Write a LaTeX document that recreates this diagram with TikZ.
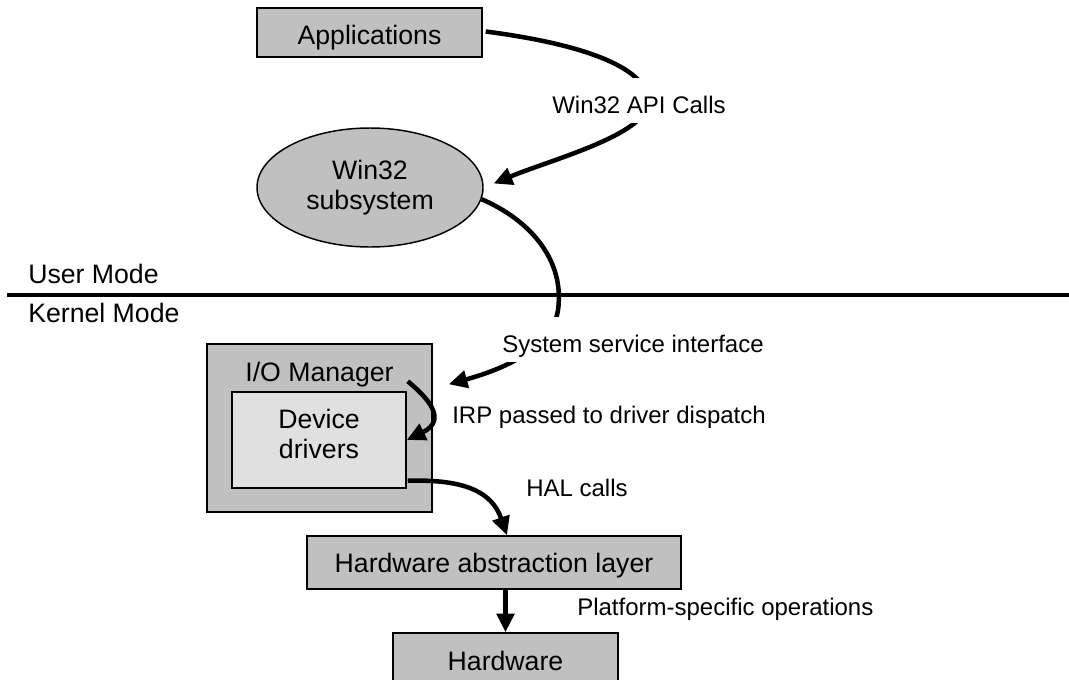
\documentclass[tikz,border=0pt]{standalone}
\usepackage{fontspec}
\setmainfont{Liberation Sans}
\usetikzlibrary{arrows.meta,shapes.geometric,calc}
\definecolor{boxgray}{RGB}{192,192,192}
\definecolor{innergray}{RGB}{224,224,224}
\begin{document}
\begin{tikzpicture}[x=0.75pt,y=-0.75pt,
  boxfont/.style={font=\fontsize{20pt}{23pt}\selectfont},
  labfont/.style={font=\fontsize{18pt}{21pt}\selectfont},
  block/.style={boxfont, draw=black, line width=1.1pt, fill=boxgray, inner sep=0pt},
  oval/.style={block, ellipse, align=center},
  modelabel/.style={boxfont, inner sep=0pt, anchor=base west},
  edgelabel/.style={labfont, inner xsep=1.5pt, inner ysep=0pt, anchor=base west},
  masked/.style={fill=white, text height=26pt, text depth=7.5pt},
  flow/.style={line width=3.4pt, -{Triangle[length=14pt,width=13pt]}},
  divider/.style={line width=3.4pt},
]
\useasboundingbox (0,0) rectangle (1069,679);

% components
\node[block, minimum width=168.75pt, minimum height=36.75pt,
      text height=17.25pt, text depth=0pt] (app) at (369.5,32.5) {Applications};
\node[oval, minimum width=169.5pt, minimum height=89.25pt] (w32) at (370,187.5)
      {Win32\\subsystem};
\node[block, minimum width=168.75pt, minimum height=126pt] (io) at (319.5,428) {};
\node[boxfont, anchor=base] (iolabel) at (319.5,381.7) {I/O Manager};
\node[block, fill=innergray, align=center, minimum width=130.5pt, minimum height=72pt]
      (drv) at (319,440) {Device\\drivers\rule[-9.5pt]{0pt}{9.5pt}};
\node[block, minimum width=280.5pt, minimum height=39.75pt,
      text height=14.25pt, text depth=0pt] (hal) at (494,562.5) {Hardware abstraction layer};
\node[block, minimum width=168.75pt, minimum height=42pt,
      text height=14.25pt, text depth=0pt] (hw) at (505.5,661) {Hardware};

% user / kernel boundary
\coordinate (divL) at (7,295);
\coordinate (divR) at (1069,295);
\draw[divider] (divL) -- (divR);
\node[modelabel] (user) at (28,283.3) {User Mode};
\node[modelabel] (kernel) at (28,322) {Kernel Mode};

% calls
\draw[flow] ($(app.east)+(3,-1)$) .. controls (590,45) and (650,70) .. (648,103)
            .. controls (646,135) and (550,160) .. ($(w32.east)+(10,-4)$);
\draw[flow] (w32.-6) .. controls (530,220) and (565,260) .. (558,310)
            .. controls (552,350) and (500,370) .. ($(io.north east)+(16,41)$);
\draw[flow] ($(io.north east)+(-25,38)$) .. controls (428,398) and (448,420) .. (drv.east);
\draw[flow] ($(drv.south east)+(1,-8)$) .. controls (465,479) and (492,492) .. ($(hal.north)+(13,0)$);
\draw[flow] (hal.south -| hw.north) -- (hw.north);

% call labels
\node[edgelabel, masked] (apilabel) at (550,113) {Win32 API Calls};
\node[edgelabel, masked] (ssilabel) at (500,352) {System service interface};
\node[edgelabel] (irplabel) at (450,423) {IRP passed to driver dispatch};
\node[edgelabel] (hallabel) at (524,496) {HAL calls};
\node[edgelabel] (platlabel) at (575,615.5) {Platform-specific operations};
\end{tikzpicture}
\end{document}
